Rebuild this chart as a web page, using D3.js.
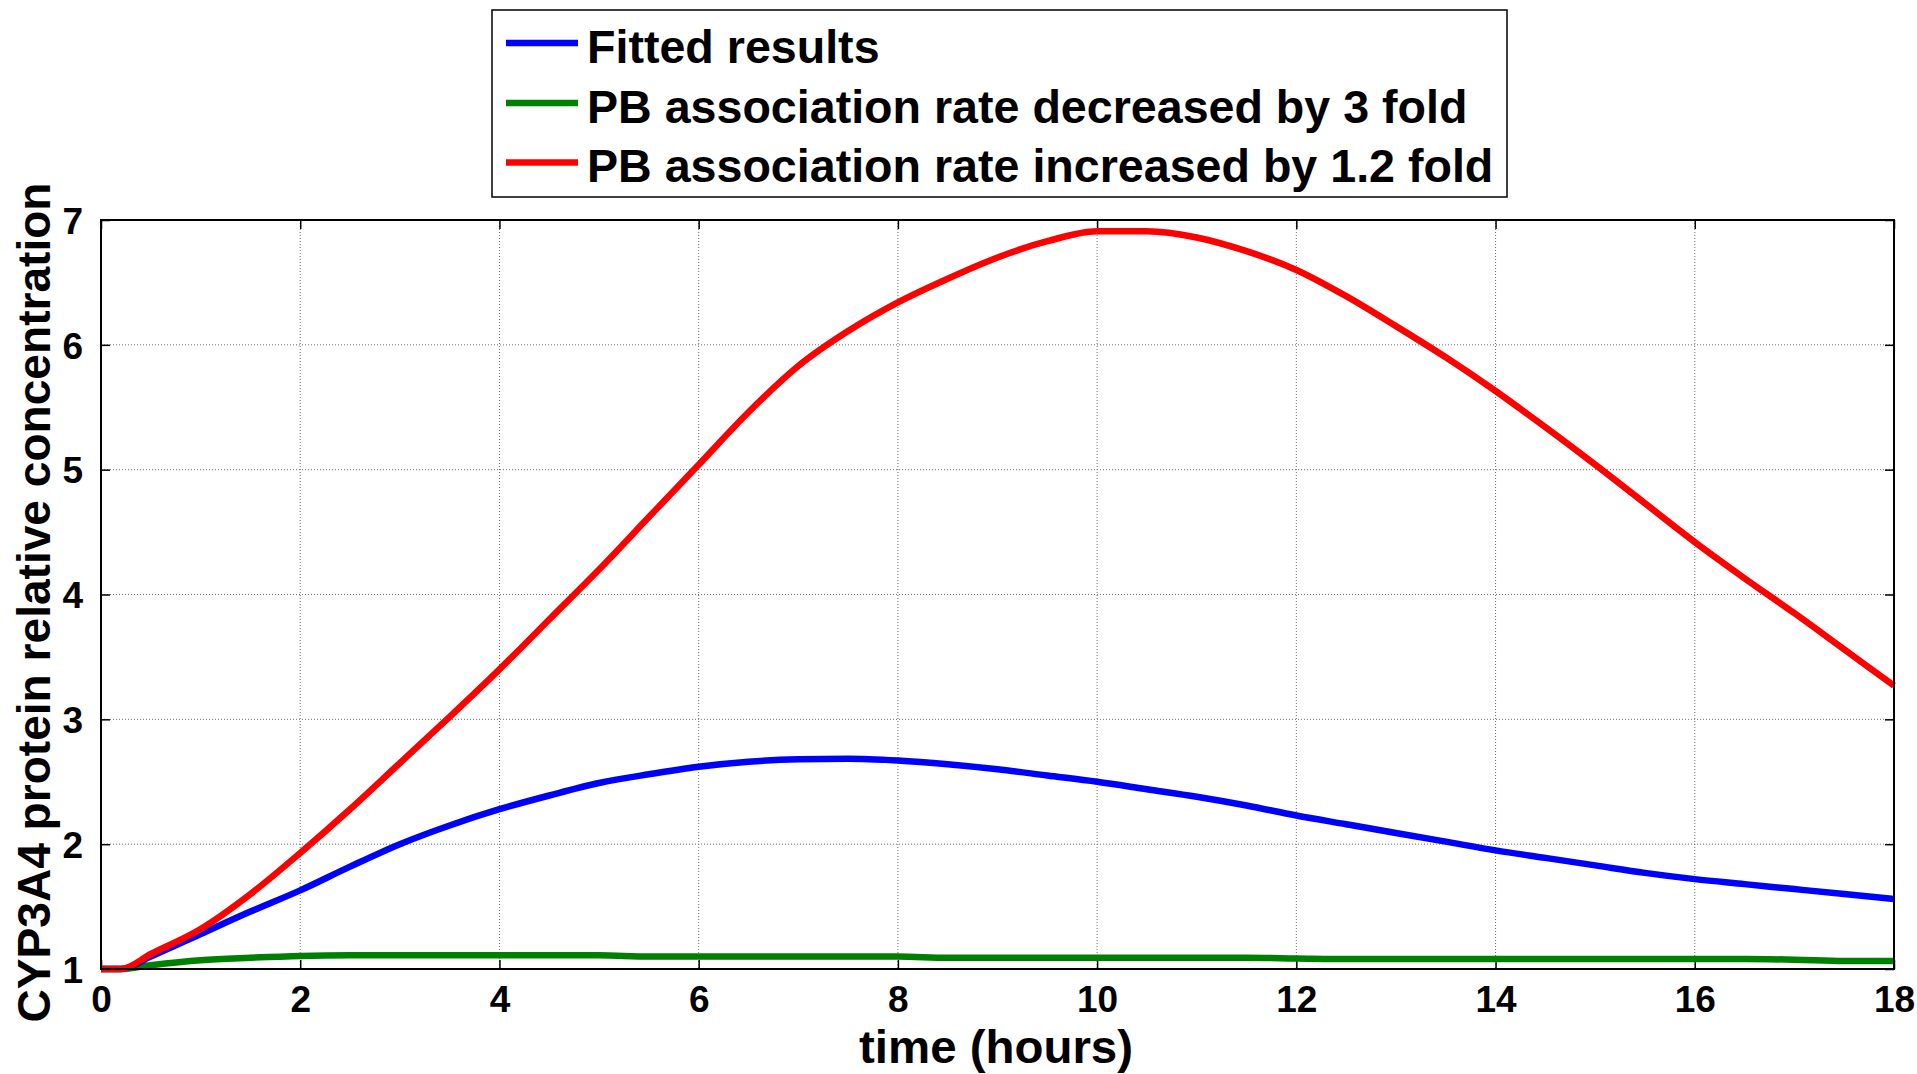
<!DOCTYPE html>
<html>
<head>
<meta charset="utf-8">
<script src="https://cdn.jsdelivr.net/npm/d3@7"></script>
<style>
  html, body { margin: 0; padding: 0; background: #fff; }
  svg { display: block; }
  text { font-family: Arial, "Liberation Sans", sans-serif; font-weight: bold; fill: #000; }
</style>
</head>
<body>
<svg id="chart" width="1917" height="1074"></svg>
<script>
// ---- data ----
const timeHours = [0, 0.2, 0.5, 1, 1.5, 2, 2.5, 3, 3.5, 4, 4.5, 5, 5.5, 6, 6.5, 7, 7.5, 8, 8.5, 9, 9.5, 10, 10.5, 11, 11.5, 12, 12.5, 13, 13.5, 14, 14.5, 15, 15.5, 16, 16.5, 17, 17.5, 18];
const fittedResults = [1.0, 1.0, 1.1, 1.28, 1.46, 1.63, 1.82, 2.0, 2.15, 2.28, 2.39, 2.49, 2.56, 2.62, 2.66, 2.68, 2.685, 2.67, 2.64, 2.60, 2.55, 2.50, 2.44, 2.38, 2.31, 2.23, 2.16, 2.09, 2.02, 1.95, 1.89, 1.83, 1.77, 1.72, 1.68, 1.64, 1.60, 1.56];
const decreased3Fold = [1.0, 1.0, 1.03, 1.07, 1.09, 1.105, 1.11, 1.11, 1.11, 1.11, 1.11, 1.11, 1.10, 1.10, 1.10, 1.10, 1.10, 1.10, 1.09, 1.09, 1.09, 1.09, 1.09, 1.09, 1.09, 1.085, 1.08, 1.08, 1.08, 1.08, 1.08, 1.08, 1.08, 1.08, 1.08, 1.075, 1.065, 1.065];
const increased12Fold = [1.0, 1.0, 1.12, 1.32, 1.6, 1.93, 2.28, 2.65, 3.02, 3.4, 3.8, 4.2, 4.62, 5.04, 5.46, 5.83, 6.11, 6.34, 6.53, 6.7, 6.83, 6.91, 6.91, 6.86, 6.75, 6.6, 6.39, 6.15, 5.9, 5.63, 5.34, 5.04, 4.73, 4.42, 4.13, 3.85, 3.56, 3.27];
const seriesNames = ["Fitted results", "PB association rate decreased by 3 fold", "PB association rate increased by 1.2 fold"];
const seriesColors = ["#0000ff", "#008000", "#ff0000"];
const xTicks = [0, 2, 4, 6, 8, 10, 12, 14, 16, 18];
const yTicks = [1, 2, 3, 4, 5, 6, 7];
const xLabel = "time (hours)";
const yLabel = "CYP3A4 protein relative concentration";

// ---- layout ----
const svg = d3.select("#chart");
const L = 101, R = 1894, T = 220, B = 969;
const x = d3.scaleLinear().domain([0, 18]).range([L, R]);
const y = d3.scaleLinear().domain([1, 7]).range([B, T]);

svg.append("rect").attr("width", 1917).attr("height", 1074).attr("fill", "#fff");

// grid
const grid = svg.append("g");
grid.selectAll("line.gx").data(xTicks.slice(1, -1)).join("line")
  .attr("x1", d => x(d)).attr("x2", d => x(d)).attr("y1", T).attr("y2", B)
  .attr("stroke", "#6f6f6f").attr("stroke-width", 1).attr("stroke-dasharray", "1,2");
grid.selectAll("line.gy").data(yTicks.slice(1, -1)).join("line")
  .attr("x1", L).attr("x2", R).attr("y1", d => y(d)).attr("y2", d => y(d))
  .attr("stroke", "#6f6f6f").attr("stroke-width", 1).attr("stroke-dasharray", "1,2");

// axes (inward ticks, tick labels)
const xAxis = d3.axisBottom(x).tickValues(xTicks).tickFormat(d3.format("d")).tickSizeInner(-9).tickSizeOuter(0).tickPadding(24);
const gx = svg.append("g").attr("transform", `translate(0,${B})`).call(xAxis);
const yAxis = d3.axisLeft(y).tickValues(yTicks).tickFormat(d3.format("d")).tickSizeInner(-9).tickSizeOuter(0).tickPadding(18);
const gy = svg.append("g").attr("transform", `translate(${L},0)`).call(yAxis);
svg.append("g").attr("transform", `translate(0,${T})`)
  .call(d3.axisTop(x).tickValues(xTicks).tickFormat("").tickSizeInner(-9).tickSizeOuter(0));
svg.append("g").attr("transform", `translate(${R},0)`)
  .call(d3.axisRight(y).tickValues(yTicks).tickFormat("").tickSizeInner(-9).tickSizeOuter(0));
svg.selectAll(".domain").remove();
svg.selectAll(".tick line").attr("stroke", "#000").attr("stroke-width", 1.5);
gx.selectAll(".tick text").attr("font-size", 37).attr("font-family", "Arial, 'Liberation Sans', sans-serif").attr("font-weight", "bold").attr("dy", "0.71em").attr("y", 17);
gy.selectAll(".tick text").attr("font-size", 37).attr("font-family", "Arial, 'Liberation Sans', sans-serif").attr("font-weight", "bold").attr("dy", "0.36em");

// lines
const data = [fittedResults, decreased3Fold, increased12Fold];
const line = d3.line().x((d, i) => x(timeHours[i])).y(d => y(d)).curve(d3.curveMonotoneX);
const plot = svg.append("g");
plot.selectAll("path.s").data([1, 0, 2]).join("path")
  .attr("d", k => line(data[k]))
  .attr("fill", "none").attr("stroke", k => seriesColors[k])
  .attr("stroke-width", 6.5).attr("stroke-linejoin", "round").attr("stroke-linecap", "butt");

// box
svg.append("rect").attr("x", L).attr("y", T).attr("width", R - L).attr("height", B - T)
  .attr("fill", "none").attr("stroke", "#000").attr("stroke-width", 2);

// axis labels
svg.append("text").attr("x", 996).attr("y", 1063).attr("text-anchor", "middle")
  .attr("font-size", 46).attr("textLength", 274).attr("lengthAdjust", "spacingAndGlyphs").text(xLabel);
svg.append("text").attr("transform", `translate(50,${(183 + 1022) / 2}) rotate(-90)`)
  .attr("text-anchor", "middle").attr("font-size", 46).attr("textLength", 840).attr("lengthAdjust", "spacingAndGlyphs").text(yLabel);

// legend
const lg = svg.append("g");
lg.append("rect").attr("x", 492).attr("y", 10).attr("width", 1015).attr("height", 187)
  .attr("fill", "#fff").attr("stroke", "#000").attr("stroke-width", 1.5);
const rowY = [43, 103, 162.5];
seriesNames.forEach((name, i) => {
  lg.append("line").attr("x1", 506).attr("x2", 578).attr("y1", rowY[i]).attr("y2", rowY[i])
    .attr("stroke", seriesColors[i]).attr("stroke-width", 6.5);
  lg.append("text").attr("x", 587).attr("y", rowY[i] + 19.5).attr("font-size", 46.6).text(name);
});
</script>
</body>
</html>
